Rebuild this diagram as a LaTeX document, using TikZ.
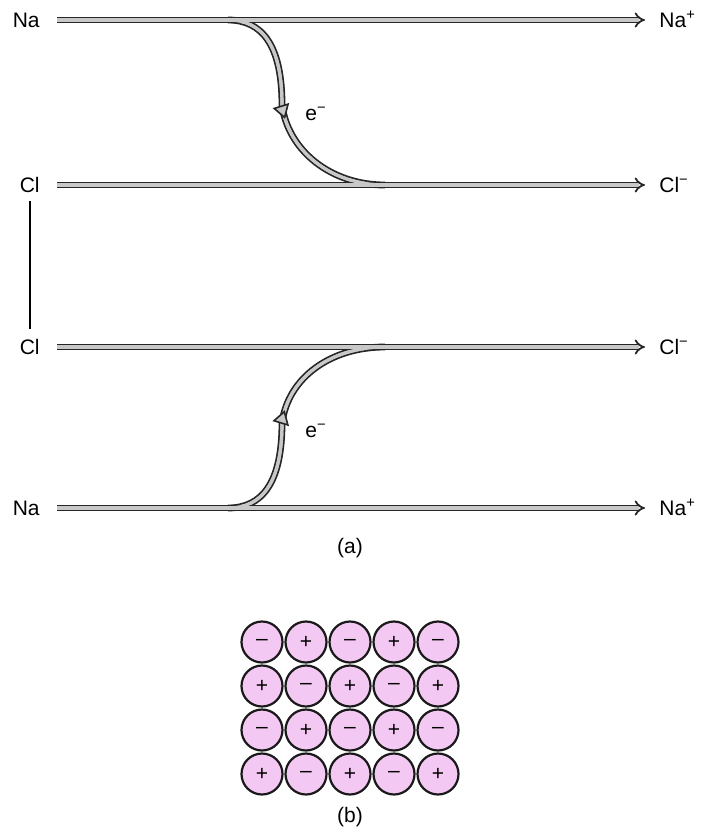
\documentclass[tikz,border=0pt]{standalone}
\usepackage{fontspec}
\setmainfont{Liberation Sans}
\usetikzlibrary{arrows.meta,positioning,calc,decorations.markings}
\definecolor{ionpink}{RGB}{243,200,242}
\definecolor{bondgray}{RGB}{200,200,200}
\tikzset{
  lbl/.style={font=\fontsize{10.5}{12}\selectfont, text height=7.6pt, text depth=0pt, inner sep=2pt},
  bond/.style={draw=black!85, line width=0.9pt, double=bondgray, double distance=1.6pt},
  bondarr/.style={bond, -{Implies}},
  bondcore/.style={draw=bondgray, line width=1.6pt},
  flow/.style={postaction=decorate, decoration={markings,
      mark=at position #1 with {\arrow[black!85]{Triangle[length=7pt,width=8.5pt,fill=bondgray,line width=0.8pt]}}}},
  ion/.style={draw=black!90, circle, line width=1.1pt, fill=ionpink, minimum size=20.5pt, inner sep=0pt, font=\fontsize{10.5}{12}\selectfont},
}

\begin{document}
\begin{tikzpicture}[x=0.5pt, y=0.5pt]
\useasboundingbox (0,0) rectangle (702,-834);
% (a) labels
\node[lbl, anchor=east] (na1) at (44,-20) {Na};
\node[lbl, anchor=east] (cl1) at (44,-185) {Cl};
\node[lbl, anchor=east] (cl2) at (44,-347) {Cl};
\node[lbl, anchor=east] (na2) at (44,-508) {Na};
\node[lbl, anchor=west] (nap1) at (655,-20) {Na\textsuperscript{+}};
\node[lbl, anchor=west] (clm1) at (655,-185) {Cl\textsuperscript{−}};
\node[lbl, anchor=west] (clm2) at (655,-347) {Cl\textsuperscript{−}};
\node[lbl, anchor=west] (nap2) at (655,-508) {Na\textsuperscript{+}};
\node[lbl] (e1) at (316,-113) {e\textsuperscript{−}};
\node[lbl] (e2) at (316,-430) {e\textsuperscript{−}};
\node[lbl] (capa) at (350,-546) {(a)};
\coordinate (t1) at (228,-20);
\coordinate (t2) at (385,-185);
\coordinate (b1) at (228,-508);
\coordinate (b2) at (385,-347);
% electron paths, under the bonds
\draw[bond] (t1) .. controls (262,-20) and (282,-45) .. (282,-105) .. controls (288,-150) and (330,-185) .. (t2);
\draw[bond] (b1) .. controls (262,-508) and (282,-483) .. (282,-423) .. controls (288,-378) and (330,-347) .. (b2);
% bonds
\draw[bondarr] ([xshift=6.5pt]na1.east) -- ([xshift=-5pt]nap1.west);
\draw[bondarr] ([xshift=6.5pt]cl1.east) -- ([xshift=-5pt]clm1.west);
\draw[bondarr] ([xshift=6.5pt]cl2.east) -- ([xshift=-5pt]clm2.west);
\draw[bondarr] ([xshift=6.5pt]na2.east) -- ([xshift=-5pt]nap2.west);
\draw[line width=1pt, shorten <=2.2pt, shorten >=3pt] (cl1.south) -- (cl2.north);
% merge the electron paths into the bonds
\draw[bondcore, flow=0.5] (t1) .. controls (262,-20) and (282,-45) .. (282,-105) .. controls (288,-150) and (330,-185) .. (t2);
\draw[bondcore, flow=0.5] (b1) .. controls (262,-508) and (282,-483) .. (282,-423) .. controls (288,-378) and (330,-347) .. (b2);
% (b) lattice
\foreach \r in {0,...,3}
  \foreach \c in {0,...,4} {
    \pgfmathparse{int(mod(\r+\c,2))}
    \ifnum\pgfmathresult=0 \def\sgn{–}\else\def\sgn{+}\fi
    \node[ion] (c\r\c) at ({262+44*\c},{-642-44*\r}) {\sgn};
  }
\node[lbl] (capb) at (350,-815) {(b)};
\end{tikzpicture}
\end{document}
